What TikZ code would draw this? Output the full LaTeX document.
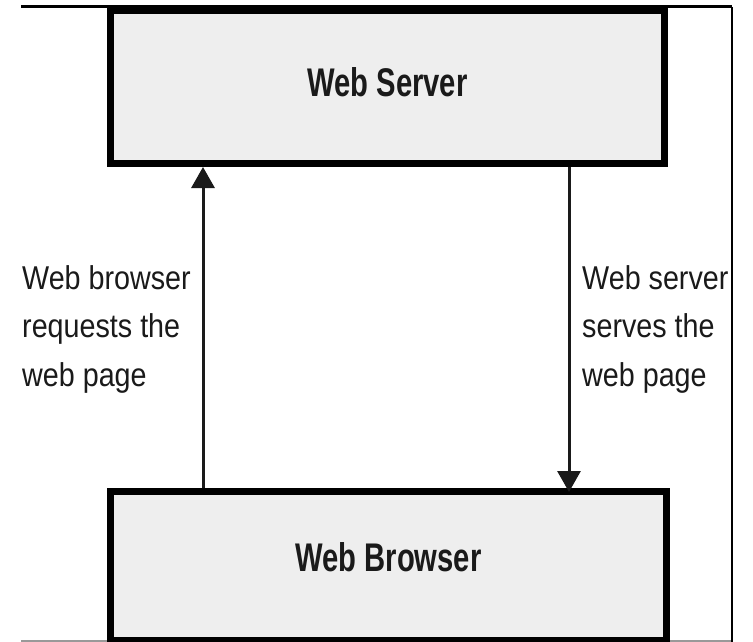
\documentclass[tikz,border=0pt]{standalone}
\usepackage{fontspec}
\usetikzlibrary{arrows.meta}
\newfontfamily\boxfont[FakeStretch=0.73]{Liberation Sans}
\newfontfamily\labfont[FakeStretch=0.87]{Liberation Sans}
\definecolor{boxgray}{HTML}{EEEEEE}
\definecolor{ink}{HTML}{1A1A1A}
\begin{document}
\begin{tikzpicture}[x=1pt,y=-1pt,
  box/.style={draw=black, line width=7pt, fill=boxgray, inner sep=0pt,
    font=\boxfont\bfseries\fontsize{40}{48}\selectfont, text=ink},
  lab/.style={inner sep=0pt, align=left, anchor=base west,
    font=\labfont\fontsize{33}{48.5}\selectfont, text=ink},
  arr/.style={line width=3pt, draw=ink, -{Triangle[length=21pt,width=23pt]}},
  frame/.style={draw=black}]
\useasboundingbox (0,0) rectangle (753,642);
\fill[white] (0,0) rectangle (753,642);
% frame lines
\coordinate (ftl) at (21,7);
\coordinate (ftr) at (732,7);
\coordinate (fbr) at (732,642);
\coordinate (fbl) at (21,641);
\coordinate (fbr2) at (732,641);
\draw[gray!80, line width=2pt] (fbl) -- (fbr2);
\draw[frame, line width=3pt] (ftl) -- (ftr);
% boxes
\node[box, minimum width=554pt, minimum height=153pt, text depth=9pt] (ws) at (387.5,87) {Web Server};
\node[box, minimum width=556pt, minimum height=148.5pt, text depth=16.5pt] (bw) at (388.5,565.75) {Web Browser};
% arrows
\coordinate (ux) at (203,0);
\coordinate (dx) at (569,0);
\draw[arr] (ux |- bw.north) -- (ux |- ws.south);
\draw[arr, shorten >=-4pt] (dx |- ws.south) -- (dx |- bw.north);
% labels
\node[lab] (l1) at (22,386) {Web browser\\requests the\\web page};
\node[lab] (l2) at (582,386) {Web server\\serves the\\web page};
\draw[frame, line width=2pt] (ftr) -- (fbr);
\end{tikzpicture}
\end{document}
